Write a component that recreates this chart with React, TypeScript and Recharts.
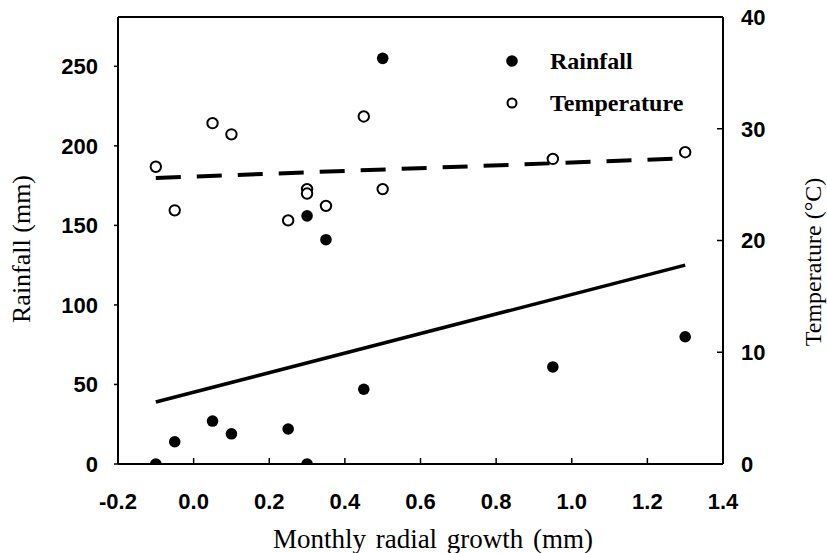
import React from "react";
import {
  ComposedChart,
  Scatter,
  XAxis,
  YAxis,
  ReferenceLine,
} from "recharts";

// monthly radial growth (mm) vs rainfall (mm)
const rainfall = [
  { x: -0.1, y: 0 },
  { x: -0.05, y: 14 },
  { x: 0.05, y: 27 },
  { x: 0.1, y: 19 },
  { x: 0.25, y: 22 },
  { x: 0.3, y: 0 },
  { x: 0.3, y: 156 },
  { x: 0.35, y: 141 },
  { x: 0.45, y: 47 },
  { x: 0.5, y: 255 },
  { x: 0.95, y: 61 },
  { x: 1.3, y: 80 },
];

// monthly radial growth (mm) vs temperature (°C)
const temperature = [
  { x: -0.1, y: 26.6 },
  { x: -0.05, y: 22.7 },
  { x: 0.05, y: 30.5 },
  { x: 0.1, y: 29.5 },
  { x: 0.25, y: 21.8 },
  { x: 0.3, y: 24.6 },
  { x: 0.3, y: 24.2 },
  { x: 0.35, y: 23.1 },
  { x: 0.45, y: 31.1 },
  { x: 0.5, y: 24.6 },
  { x: 0.95, y: 27.3 },
  { x: 1.3, y: 27.9 },
];

// fitted lines
const rainFit = [
  { x: -0.1, y: 39 },
  { x: 1.3, y: 125 },
];
const tempFit = [
  { x: -0.1, y: 25.6 },
  { x: 1.3, y: 27.35 },
];

const xTicks = [-0.2, 0, 0.2, 0.4, 0.6, 0.8, 1.0, 1.2, 1.4];
const rainTicks = [0, 50, 100, 150, 200, 250];
const tempTicks = [0, 10, 20, 30, 40];

const SANS = "'Liberation Sans', Arial, sans-serif";
const SERIF = "'Liberation Serif', 'Times New Roman', serif";

const tickText = { fontFamily: SANS, fontWeight: 700, fontSize: 22, fill: "#000" };

const XTick = ({ x, y, payload }: any) => (
  <g>
    <line x1={x} x2={x} y1={y} y2={y - 6} stroke="#000" strokeWidth={1.5} />
    <text x={x} y={y + 37} dy="0.36em" textAnchor="middle" style={tickText}>
      {payload.value.toFixed(1)}
    </text>
  </g>
);

const LeftTick = ({ x, y, payload }: any) => (
  <g>
    <line x1={x - 4} x2={x} y1={y} y2={y} stroke="#000" strokeWidth={1.5} />
    <text x={x - 20} y={y} dy="0.36em" textAnchor="end" style={tickText}>
      {payload.value}
    </text>
  </g>
);

const RightTick = ({ x, y, payload }: any) => (
  <g>
    <line x1={x - 6} x2={x} y1={y} y2={y} stroke="#000" strokeWidth={1.5} />
    <text x={x + 18} y={y} dy="0.36em" textAnchor="start" style={tickText}>
      {payload.value}
    </text>
  </g>
);

const FilledDot = ({ cx, cy }: any) => <circle cx={cx} cy={cy} r={5.8} fill="#000" />;
const OpenDot = ({ cx, cy }: any) => (
  <circle cx={cx} cy={cy} r={5.2} fill="#fff" stroke="#000" strokeWidth={2} />
);
const NoDot = () => <g />;

export default function App() {
  return (
    <div style={{ position: "relative", width: 827, height: 553, background: "#fff" }}>
      <style>{`body{margin:0}`}</style>
      <ComposedChart
        width={827}
        height={553}
        margin={{ top: 17, right: 0, bottom: 0, left: 0 }}
      >
        <XAxis
          type="number"
          dataKey="x"
          domain={[-0.2, 1.4]}
          ticks={xTicks}
          interval={0}
          height={89}
          tickSize={0}
          tickMargin={0}
          tick={<XTick />}
          axisLine={{ stroke: "#000", strokeWidth: 2 }}
          tickLine={false}
          allowDataOverflow
        />
        <YAxis
          yAxisId="rain"
          type="number"
          dataKey="y"
          domain={[0, 281]}
          ticks={rainTicks}
          width={118}
          tickSize={0}
          tickMargin={0}
          tick={<LeftTick />}
          tickLine={false}
          axisLine={{ stroke: "#000", strokeWidth: 2 }}
          allowDataOverflow
        />
        <YAxis
          yAxisId="temp"
          orientation="right"
          type="number"
          dataKey="y"
          domain={[0, 40]}
          ticks={tempTicks}
          width={104}
          tickSize={0}
          tickMargin={0}
          tick={<RightTick />}
          tickLine={false}
          axisLine={{ stroke: "#000", strokeWidth: 2 }}
          allowDataOverflow
        />
        <ReferenceLine yAxisId="rain" y={281} stroke="#000" strokeWidth={2} />
        <Scatter
          yAxisId="rain"
          data={rainFit}
          line={{ stroke: "#000", strokeWidth: 3.5 }}
          shape={<NoDot />}
          isAnimationActive={false}
        />
        <Scatter
          yAxisId="temp"
          data={tempFit}
          line={{ stroke: "#000", strokeWidth: 4, strokeDasharray: "25 16" }}
          shape={<NoDot />}
          isAnimationActive={false}
        />
        <Scatter
          yAxisId="rain"
          data={rainfall}
          shape={<FilledDot />}
          isAnimationActive={false}
        />
        <Scatter
          yAxisId="temp"
          data={temperature}
          shape={<OpenDot />}
          isAnimationActive={false}
        />
      </ComposedChart>

      {/* axis titles */}
      <svg
        width={827}
        height={553}
        style={{ position: "absolute", left: 0, top: 0, pointerEvents: "none" }}
      >
        <text
          x={433}
          y={540}
          dy="0.3em"
          textAnchor="middle"
          fontFamily={SERIF}
          fontSize={27}
          style={{ wordSpacing: 3 }}
        >
          Monthly radial growth (mm)
        </text>
        <text
          transform="translate(22 249) rotate(-90)"
          dy="0.3em"
          textAnchor="middle"
          fontFamily={SERIF}
          fontSize={26}
        >
          Rainfall (mm)
        </text>
        <text
          transform="translate(814 262) rotate(-90)"
          dy="0.3em"
          textAnchor="middle"
          fontFamily={SERIF}
          fontSize={24}
        >
          Temperature (°C)
        </text>
      </svg>

      <div
        style={{
          position: "absolute",
          left: 505,
          top: 40,
          fontFamily: SERIF,
          fontWeight: 700,
          fontSize: 24,
          lineHeight: "42px",
        }}
      >
        <div style={{ display: "flex", alignItems: "center" }}>
          <svg width={45} height={20}>
            <circle cx={7} cy={10} r={5.8} fill="#000" />
          </svg>
          <span>Rainfall</span>
        </div>
        <div style={{ display: "flex", alignItems: "center" }}>
          <svg width={45} height={20}>
            <circle cx={7} cy={10} r={4.5} fill="#fff" stroke="#000" strokeWidth={2} />
          </svg>
          <span>Temperature</span>
        </div>
      </div>
    </div>
  );
}
